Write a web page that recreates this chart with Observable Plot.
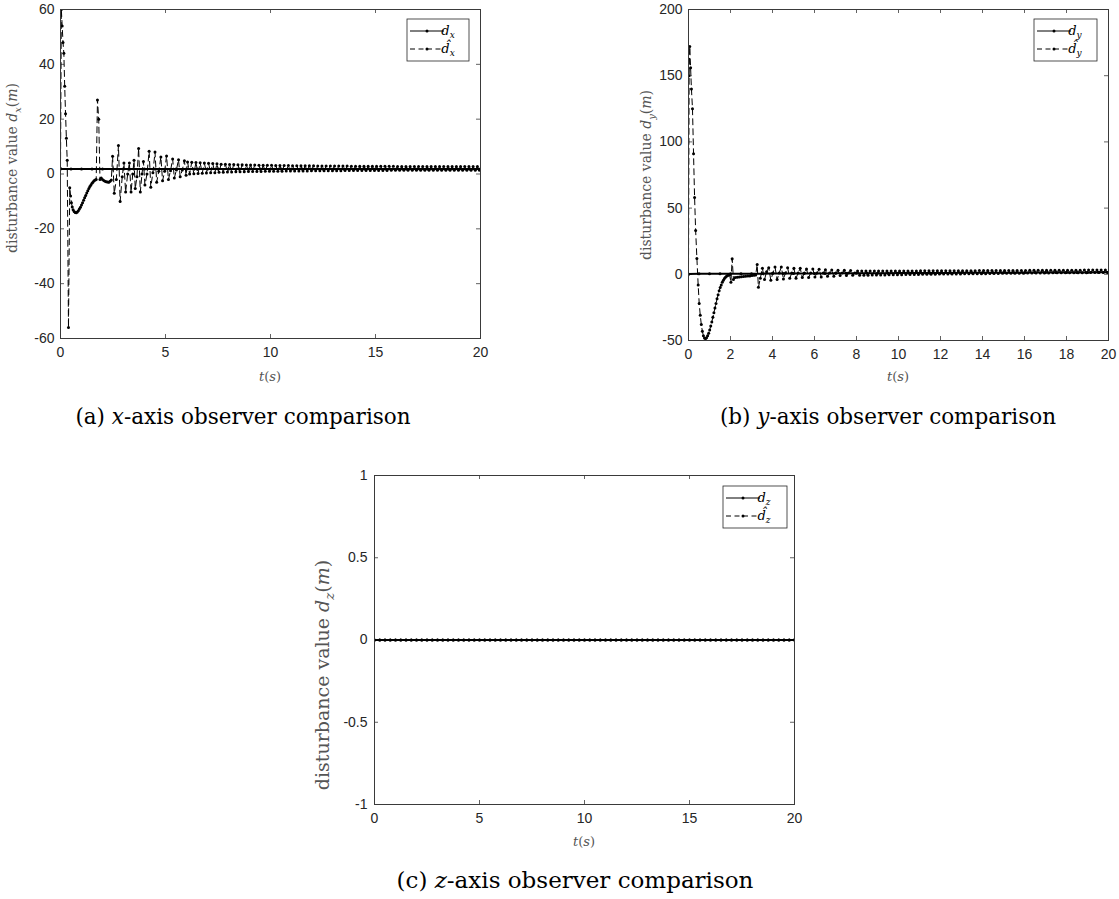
<!DOCTYPE html>
<html>
<head>
<meta charset="utf-8">
<script src="https://cdn.jsdelivr.net/npm/d3@7"></script>
<script src="https://cdn.jsdelivr.net/npm/@observablehq/plot@0.6"></script>
<style>
  html, body { margin: 0; padding: 0; background: #fff; }
  #wrap { position: relative; width: 1119px; height: 899px; overflow: hidden; background: #fff; }
  .cap { position: absolute; font-family: "DejaVu Serif", "Liberation Serif", serif; color: #000;
         white-space: nowrap; transform: translate(-50%, -50%); line-height: 1; }
  .cap i { font-style: italic; }
</style>
</head>
<body>
<div id="wrap"></div>
<script>
// ---------------- data ----------------
const xTicksA = [0, 5, 10, 15, 20];
const yTicksA = [-60, -40, -20, 0, 20, 40, 60];
const xTicksB = [0, 2, 4, 6, 8, 10, 12, 14, 16, 18, 20];
const yTicksB = [-50, 0, 50, 100, 150, 200];
const xTicksC = [0, 5, 10, 15, 20];
const yTicksC = [-1, -0.5, 0, 0.5, 1];

// sample times of the true disturbances
const tTrue = [0,0.5,1,1.5,2,2.5,3,3.5,4,4.5,5,5.5,6,6.5,7,7.5,8,8.5,9,9.5,10,
               10.5,11,11.5,12,12.5,13,13.5,14,14.5,15,15.5,16,16.5,17,17.5,18,18.5,19,19.5,20];

// (a) x-axis
const dxTrue = [1.8,1.8,1.8,1.8,1.8,1.8,1.8,1.8,1.8,1.8,1.8,1.8,1.8,1.8,1.8,1.8,1.8,1.8,1.8,1.8,1.8,
                1.8,1.8,1.8,1.8,1.8,1.8,1.8,1.8,1.8,1.8,1.8,1.8,1.8,1.8,1.8,1.8,1.8,1.8,1.8,1.8];
// transient of the estimate (time, value)
const dxEstT = [0,0.04,0.08,0.12,0.16,0.2,0.24,0.28,0.32,0.38,0.44,0.48,0.52,0.56,0.6,0.65,0.7,0.75,0.8,0.85,
  0.9,0.95,1,1.05,1.1,1.15,1.2,1.25,1.3,1.35,1.4,1.45,1.5,1.55,1.6,1.65,1.7,1.76,1.82,1.88,
  1.94,2,2.06,2.12,2.18,2.24,2.3,2.36,2.42,2.48,2.56,2.66,2.76,2.84,2.94,3.02,3.1,3.2,3.28,3.36,
  3.44,3.5,3.56,3.64,3.72,3.8,3.88,3.95,4.02,4.12,4.22,4.3,4.4,4.5,4.58,4.68,4.78,4.86,4.96,5.05,
  5.14,5.24,5.34,5.42,5.52,5.62,5.7,5.8,5.9,5.98];
const dxEstV = [2,60,54,48,44,32,22,13,5,-56,-5,-8,-10.5,-12,-13,-13.7,-14,-14.1,-13.9,-13.4,
  -12.8,-12.1,-11.3,-10.5,-9.6,-8.7,-7.8,-6.9,-6.1,-5.3,-4.6,-4,-3.4,-2.9,-2.5,-2.2,-2,27,20,-2,
  -1.5,-2,-2.4,-2.6,-2.8,-2.9,-3,-2.6,-2.2,6.5,-7,-2,10.4,-10,-1,4,-6.6,0,4,-6.6,
  0,5,-5.3,-1,9.3,-6.6,0,4.6,-4,0,8.3,-4.8,0.5,8,-3,1,6.2,-2.5,1,6.6,
  -2,1.2,5.5,-1.5,1.5,5.2,-1,1.5,4.8,-0.5];
// steady part of the estimate: one value every 0.1 s from 6.05 s
const dxTailStart = 6.05, dxTailStep = 0.1;
const dxTailV = [
  4.4,0.0,4.3,0.1,4.2,0.2,4.1,0.3,4.0,0.4,3.9,0.5,3.8,0.5,3.7,0.6,3.6,0.6,3.6,0.7,
  3.5,0.7,3.5,0.8,3.4,0.8,3.4,0.8,3.3,0.9,3.3,0.9,3.3,0.9,3.2,0.9,3.2,1.0,3.2,1.0,
  3.2,1.0,3.1,1.0,3.1,1.0,3.1,1.1,3.1,1.1,3.0,1.1,3.0,1.1,3.0,1.1,3.0,1.1,3.0,1.2,
  3.0,1.2,2.9,1.2,2.9,1.2,2.9,1.2,2.9,1.2,2.9,1.2,2.9,1.2,2.9,1.3,2.9,1.3,2.8,1.3,
  2.8,1.3,2.8,1.3,2.8,1.3,2.8,1.3,2.8,1.3,2.8,1.3,2.8,1.3,2.8,1.3,2.8,1.4,2.8,1.4,
  2.7,1.4,2.7,1.4,2.7,1.4,2.7,1.4,2.7,1.4,2.7,1.4,2.7,1.4,2.7,1.4,2.7,1.4,2.7,1.4,
  2.7,1.4,2.7,1.4,2.7,1.4,2.7,1.4,2.7,1.4,2.7,1.4,2.7,1.4,2.7,1.4,2.7,1.4,2.7,1.4];

// (b) y-axis
const dyTrue = [0.3,0.33,0.36,0.39,0.42,0.45,0.48,0.51,0.54,0.57,0.6,0.63,0.66,0.69,0.72,0.75,0.78,0.81,0.84,0.87,0.9,
                0.93,0.96,0.99,1.02,1.05,1.08,1.11,1.14,1.17,1.2,1.23,1.26,1.29,1.32,1.35,1.38,1.41,1.44,1.47,1.5];
const dyEstT = [0,0.03,0.06,0.1,0.14,0.19,0.24,0.29,0.34,0.4,0.46,0.51,0.56,0.61,0.66,0.71,0.76,0.81,0.86,0.91,
  0.96,1.01,1.06,1.11,1.16,1.21,1.26,1.31,1.36,1.41,1.46,1.51,1.56,1.61,1.66,1.71,1.76,1.81,1.86,1.91,
  1.96,2.02,2.08,2.14,2.22,2.32,2.42,2.52,2.62,2.72,2.82,2.92,3.02,3.12,3.2,3.27,3.33,3.42,3.52,3.62,
  3.72,3.82,3.92,4.02,4.12,4.22,4.32,4.42,4.52,4.62,4.72,4.82,4.92,5.02,5.12,5.22,5.32,5.42,5.52,5.62,
  5.72,5.82,5.92,6.02,6.12,6.22,6.32,6.42,6.52,6.62,6.72,6.82,6.92,7.02,7.12,7.22,7.32,7.42,7.52,7.62,
  7.72,7.82,7.92];
const dyEstV = [0,150,172,156,140,125,91,58,33,12,-8,-22,-31,-38,-43,-46.5,-48.2,-48.6,-48,-46.5,
  -44.5,-42,-39,-36,-32.5,-29,-25.5,-22,-18.5,-15.5,-12.5,-10,-8,-6,-4.5,-3.2,-2.2,-1.5,-1,-0.6,
  -0.4,-6,11.7,-4,-2.5,-2.2,-2,-1.8,-1.6,-1.5,-1.3,-1.2,-1,-0.8,-0.5,7.4,-9.8,-3,4.5,-4,
  2,5,-4.5,1,5.5,-4,1,5.5,-3.5,1,5,-3,1,4.5,-3,1,4.5,-2.5,1,4,
  -2.5,1,4,-2,1,3.8,-2,1,3.5,-1.5,1,3.3,-1.5,1,3,-1,1,3,-1,1,
  2.8,-0.8,1];
const dyTailStart = 8.05, dyTailStep = 0.1;
const dyTailV = [
  2.5,-0.8,2.5,-0.7,2.5,-0.7,2.5,-0.6,2.5,-0.6,2.5,-0.5,2.5,-0.5,2.5,-0.4,2.5,-0.4,2.5,-0.3,
  2.5,-0.3,2.5,-0.2,2.5,-0.2,2.5,-0.1,2.5,-0.1,2.6,0.0,2.6,0.0,2.6,0.1,2.6,0.1,2.6,0.2,
  2.6,0.2,2.6,0.2,2.7,0.3,2.7,0.3,2.7,0.3,2.7,0.4,2.7,0.4,2.7,0.4,2.7,0.5,2.8,0.5,
  2.8,0.5,2.8,0.6,2.8,0.6,2.8,0.6,2.8,0.7,2.9,0.7,2.9,0.7,2.9,0.8,2.9,0.8,2.9,0.8,
  2.9,0.9,3.0,0.9,3.0,0.9,3.0,1.0,3.0,1.0,3.0,1.0,3.0,1.1,3.1,1.1,3.1,1.1,3.1,1.1,
  3.1,1.2,3.1,1.2,3.1,1.2,3.1,1.2,3.2,1.2,3.2,1.3,3.2,1.3,3.2,1.3,3.2,1.3,3.2,1.3];

// (c) z-axis: true and estimated values, one every 0.25 s from 0 s
const dzStart = 0, dzStep = 0.25;
const dzTrue = [0,0,0,0,0,0,0,0,0,0,0,0,0,0,0,0,0,0,0,0,0,0,0,0,0,0,0,0,0,0,0,0,0,0,0,0,0,0,0,0,
                0,0,0,0,0,0,0,0,0,0,0,0,0,0,0,0,0,0,0,0,0,0,0,0,0,0,0,0,0,0,0,0,0,0,0,0,0,0,0,0,0];
const dzEst  = [0,0,0,0,0,0,0,0,0,0,0,0,0,0,0,0,0,0,0,0,0,0,0,0,0,0,0,0,0,0,0,0,0,0,0,0,0,0,0,0,
                0,0,0,0,0,0,0,0,0,0,0,0,0,0,0,0,0,0,0,0,0,0,0,0,0,0,0,0,0,0,0,0,0,0,0,0,0,0,0,0,0];

// ---------------- drawing ----------------
const wrap = document.getElementById("wrap");
const AXC = "#262626";
const FRC = "#3a3a3a";
const LABC = "#555";
const SERIF = "'DejaVu Serif', 'Liberation Serif', serif";
const SANS = "'Liberation Sans', Arial, Helvetica, sans-serif";

function rows(tArr, vArr) { return vArr.map((v, i) => ({t: tArr[i], v})); }
function tail(start, step, vArr) { return vArr.map((v, i) => ({t: +(start + i * step).toFixed(3), v})); }

function mathLabel(sel, sub, size) {
  sel.append("tspan").text("disturbance value ");
  sel.append("tspan").attr("font-style", "italic").text("d");
  sel.append("tspan").attr("font-style", "italic").attr("font-size", size * 0.7).attr("dy", size * 0.25).text(sub);
  sel.append("tspan").attr("dy", -size * 0.25).text("(");
  sel.append("tspan").attr("font-style", "italic").text("m");
  sel.append("tspan").text(")");
}

function panel(cfg) {
  const {left, top, width, height, ml, mr, mt, mb, xTicks, yTicks, yDomain,
         est, tru, sub, legend, ylab, xlabY, labSize, tickPad, lineW} = cfg;
  const pw = width - ml - mr, ph = height - mt - mb;
  const svg = Plot.plot({
    width, height,
    marginLeft: ml, marginRight: mr, marginTop: mt, marginBottom: mb,
    style: {fontFamily: SANS, fontSize: "14px", color: AXC, background: "transparent", overflow: "visible"},
    x: {domain: [0, 20]},
    y: {domain: yDomain},
    marks: [
      Plot.axisX(xTicks, {tickSize: 0, tickPadding: 9, label: null, tickFormat: d => String(d),
                          fontSize: 14, fontFamily: SANS, fill: AXC}),
      Plot.axisY(yTicks, {tickSize: 0, tickPadding: tickPad, label: null, tickFormat: d => String(d),
                          fontSize: 14, fontFamily: SANS, fill: AXC}),
      Plot.tickX(xTicks, {x: d => d, insetTop: ph - 4, stroke: FRC, strokeWidth: 0.8}),
      Plot.tickX(xTicks, {x: d => d, insetBottom: ph - 4, stroke: FRC, strokeWidth: 0.8}),
      Plot.tickY(yTicks, {y: d => d, insetRight: pw - 4, stroke: FRC, strokeWidth: 0.8}),
      Plot.tickY(yTicks, {y: d => d, insetLeft: pw - 4, stroke: FRC, strokeWidth: 0.8}),
      Plot.line(est, {x: "t", y: "v", stroke: "#000", strokeWidth: 1, strokeDasharray: "6,4", clip: true}),
      Plot.dot(est, {x: "t", y: "v", r: 1.5, fill: "#000", clip: true}),
      Plot.line(tru, {x: "t", y: "v", stroke: "#000", strokeWidth: lineW, clip: true}),
      Plot.dot(tru, {x: "t", y: "v", r: 1.5, fill: "#000", clip: true}),
      Plot.frame({stroke: FRC, strokeWidth: 1})
    ]
  });
  svg.style.position = "absolute";
  svg.style.left = left + "px";
  svg.style.top = top + "px";
  wrap.appendChild(svg);
  const s = d3.select(svg);

  const yl = s.append("text")
    .attr("transform", `translate(${ylab.x},${ylab.y}) rotate(-90)`)
    .attr("text-anchor", "middle")
    .attr("font-family", SERIF).attr("font-size", labSize).attr("fill", LABC);
  mathLabel(yl, sub, labSize);

  const xl = s.append("text")
    .attr("x", ml + pw / 2).attr("y", xlabY)
    .attr("text-anchor", "middle")
    .attr("font-family", SERIF).attr("font-size", 13).attr("fill", LABC);
  xl.append("tspan").attr("font-style", "italic").text("t");
  xl.append("tspan").text("(");
  xl.append("tspan").attr("font-style", "italic").text("s");
  xl.append("tspan").text(")");

  const g = s.append("g").attr("transform", `translate(${legend.x},${legend.y})`);
  g.append("rect").attr("x", 0).attr("y", 0).attr("width", legend.w).attr("height", 42)
    .attr("fill", "#fff").attr("stroke", AXC).attr("stroke-width", 0.8);
  const items = [{y: 12, dash: null, hat: false}, {y: 30, dash: "5,3.5", hat: true}];
  for (const r of items) {
    g.append("line").attr("x1", 3).attr("x2", 37).attr("y1", r.y).attr("y2", r.y)
      .attr("stroke", "#000").attr("stroke-width", 1).attr("stroke-dasharray", r.dash);
    g.append("circle").attr("cx", 20).attr("cy", r.y).attr("r", 1.5).attr("fill", "#000");
    const tx = g.append("text").attr("x", 41).attr("y", r.y + 4)
      .attr("font-family", SERIF).attr("font-size", 13).attr("fill", "#000");
    tx.append("tspan").attr("font-style", "italic").text(r.hat ? "d\u0302" : "d");
    tx.append("tspan").attr("font-style", "italic").attr("font-size", 9).attr("dy", 3).text(sub);
  }
}

panel({left: 0, top: 0, width: 500, height: 390, ml: 60, mr: 20, mt: 9, mb: 52,
  xTicks: xTicksA, yTicks: yTicksA, yDomain: [-60, 60],
  est: rows(dxEstT, dxEstV).concat(tail(dxTailStart, dxTailStep, dxTailV)),
  tru: rows(tTrue, dxTrue), sub: "x", lineW: 2,
  legend: {x: 407, y: 19, w: 62}, ylab: {x: 17, y: 168}, xlabY: 381, labSize: 14, tickPad: 6});

panel({left: 630, top: 0, width: 489, height: 390, ml: 58, mr: 11, mt: 9, mb: 50,
  xTicks: xTicksB, yTicks: yTicksB, yDomain: [-50, 200],
  est: rows(dyEstT, dyEstV).concat(tail(dyTailStart, dyTailStep, dyTailV)),
  tru: rows(tTrue, dyTrue), sub: "y", lineW: 2,
  legend: {x: 404, y: 19, w: 63}, ylab: {x: 21, y: 175}, xlabY: 381, labSize: 14, tickPad: 6});

panel({left: 300, top: 460, width: 520, height: 400, ml: 74, mr: 26, mt: 15, mb: 56,
  xTicks: xTicksC, yTicks: yTicksC, yDomain: [-1, 1],
  est: tail(dzStart, dzStep, dzEst), tru: tail(dzStart, dzStep, dzTrue), sub: "z", lineW: 2.2,
  legend: {x: 423, y: 26, w: 64}, ylab: {x: 29, y: 215}, xlabY: 386, labSize: 19, tickPad: 7});

function caption(letter, v, cx, cy, size) {
  const d = document.createElement("div");
  d.className = "cap";
  d.style.left = cx + "px";
  d.style.top = cy + "px";
  d.style.fontSize = size + "px";
  d.innerHTML = `(${letter}) <i>${v}</i>-axis observer comparison`;
  wrap.appendChild(d);
}
caption("a", "x", 243, 417, 21.5);
caption("b", "y", 888, 417, 21.5);
caption("c", "z", 575, 880, 23);
</script>
</body>
</html>
